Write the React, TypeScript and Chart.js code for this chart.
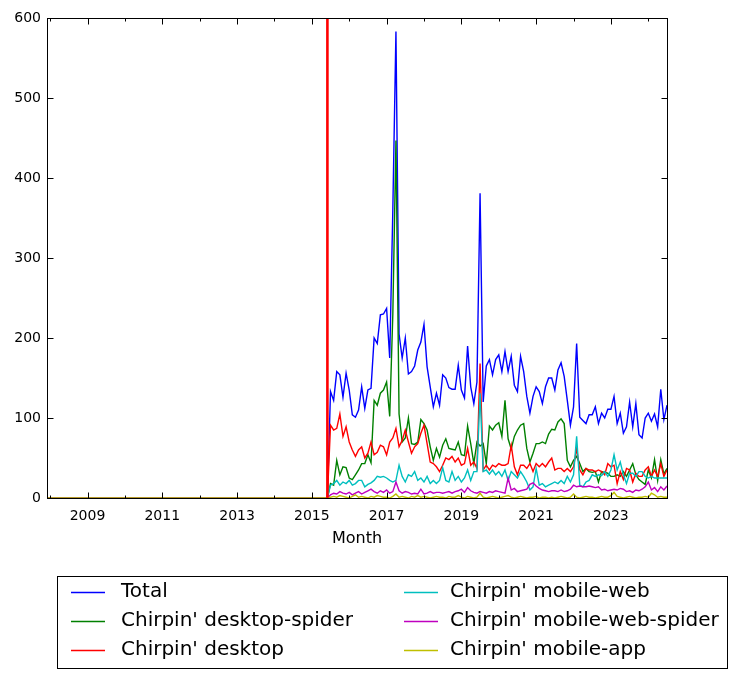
import React, { useEffect, useRef } from "react";
import { Chart, registerables } from "chart.js";

Chart.register(...registerables);

// ---- time frame ----
const FIRST_MONTH = "2007-12";
const SERIES_START = "2015-07"; // every series is 0 before this month
const LAST_MONTH = "2024-07";
const LAUNCH_MARKER = "2015-06"; // red vertical marker

// ---- ticks ----
const majorYearTicks = [2009, 2011, 2013, 2015, 2017, 2019, 2021, 2023];
const minorYearTicks = [2008, 2010, 2012, 2014, 2016, 2018, 2020, 2022, 2024];
const yTickValues = [0, 100, 200, 300, 400, 500, 600];

// ---- series ----
const seriesLabels = [
  "Total",
  "Chirpin' desktop-spider",
  "Chirpin' desktop",
  "Chirpin' mobile-web",
  "Chirpin' mobile-web-spider",
  "Chirpin' mobile-app",
];
const seriesColors = ["#0000ff", "#008000", "#ff0000", "#00bfbf", "#bf00bf", "#bfbf00"];

// monthly values from 2015-07 to 2024-07
const total = [
  133, 122, 158, 154, 126, 156, 135, 104, 101, 110,
  139, 112, 135, 137, 200, 193, 229, 230, 237, 175,
  360, 583, 205, 175, 200, 155, 158, 165, 185, 195,
  217, 164, 139, 114, 131, 116, 154, 150, 138, 136,
  136, 166, 135, 125, 190, 139, 118, 145, 381, 120,
  165, 173, 154, 173, 179, 158, 183, 158, 177, 141,
  133, 177, 158, 127, 106, 127, 139, 133, 118, 139,
  150, 150, 135, 160, 169, 152, 122, 91, 114, 193,
  101, 97, 93, 104, 104, 114, 93, 106, 100, 111,
  111, 127, 93, 106, 81, 89, 120, 89, 118, 79,
  75, 100, 106, 96, 105, 89, 136, 98, 116,
];
const desktopSpider = [
  18, 16, 47, 29, 39, 38, 25, 23, 29, 35,
  43, 43, 54, 44, 122, 116, 131, 135, 145, 102,
  230, 447, 105, 70, 75, 100, 68, 67, 70, 98,
  93, 85, 64, 47, 62, 51, 66, 74, 62, 61,
  60, 70, 54, 53, 90, 68, 43, 70, 65, 68,
  43, 90, 85, 91, 94, 77, 122, 74, 61, 77,
  85, 91, 93, 62, 45, 56, 68, 68, 70, 68,
  80, 86, 85, 95, 99, 93, 47, 39, 47, 52,
  43, 33, 37, 33, 32, 33, 20, 33, 32, 31,
  27, 27, 29, 27, 33, 27, 35, 43, 29, 23,
  20, 17, 35, 25, 48, 22, 48, 30, 37,
];
const desktop = [
  91, 85, 87, 105, 77, 89, 70, 60, 52, 60,
  64, 50, 56, 70, 54, 57, 66, 64, 54, 70,
  75, 87, 64, 72, 85, 70, 56, 64, 68, 81,
  91, 68, 45, 43, 39, 33, 41, 50, 48, 52,
  45, 50, 41, 43, 62, 41, 45, 37, 168, 35,
  41, 35, 41, 39, 43, 41, 41, 43, 66, 39,
  29, 41, 41, 37, 43, 33, 43, 39, 43, 39,
  45, 50, 35, 37, 37, 33, 37, 33, 39, 62,
  35, 29, 37, 35, 35, 33, 35, 33, 29, 43,
  39, 41, 18, 33, 23, 37, 35, 20, 31, 27,
  27, 35, 39, 27, 35, 27, 43, 27, 35,
];
const mobileWeb = [
  16, 18, 22, 16, 20, 18, 22, 16, 18, 22,
  22, 14, 17, 19, 22, 27, 26, 27, 25, 22,
  20, 22, 41, 27, 20, 29, 27, 33, 22, 25,
  20, 27, 18, 22, 18, 22, 38, 22, 20, 33,
  22, 27, 20, 25, 35, 22, 33, 33, 131, 33,
  35, 30, 35, 29, 33, 27, 35, 22, 33, 29,
  25, 33, 27, 20, 10, 14, 37, 16, 18, 14,
  16, 18, 20, 18, 22, 18, 27, 20, 29, 77,
  16, 14, 20, 22, 29, 27, 29, 28, 33, 27,
  35, 54, 35, 45, 29, 18, 31, 31, 27, 33,
  33, 27, 25, 27, 25, 25, 25, 25, 25,
];
const mobileWebSpider = [
  4, 6, 5, 8, 6, 5, 7, 4, 6, 8,
  5, 7, 9, 11, 8, 6, 9, 7, 10, 6,
  8, 20, 9, 6, 8, 7, 5, 6, 5, 11,
  5, 6, 8, 6, 7, 7, 6, 7, 8, 6,
  8, 9, 11, 7, 13, 9, 7, 6, 8, 7,
  6, 8, 7, 9, 8, 7, 6, 25, 10, 12,
  8, 9, 10, 11, 17, 19, 15, 12, 10, 9,
  8, 9, 9, 8, 10, 8, 9, 11, 16, 14,
  15, 14, 14, 15, 14, 13, 14, 10, 11, 9,
  10, 11, 10, 12, 11, 8, 9, 7, 10, 9,
  11, 14, 20, 10, 13, 8, 14, 10, 15,
];
const mobileApp = [
  1, 2, 1, 3, 2, 1, 0, 2, 4, 1,
  2, 1, 0, 2, 1, 3, 2, 1, 1, 0,
  2, 5, 1, 2, 1, 0, 2, 1, 3, 1,
  2, 1, 0, 1, 2, 1, 1, 0, 2, 1,
  1, 3, 1, 0, 2, 1, 0, 1, 6, 1,
  0, 1, 2, 1, 0, 1, 2, 3, 1, 0,
  1, 2, 1, 0, 1, 1, 2, 0, 1, 1,
  0, 1, 0, 1, 2, 1, 0, 1, 5, 1,
  0, 1, 2, 1, 1, 0, 1, 2, 1, 1,
  3, 7, 2, 1, 0, 1, 2, 1, 0, 1,
  1, 2, 1, 6, 4, 1, 2, 1, 1,
];
const seriesValues = [total, desktopSpider, desktop, mobileWeb, mobileWebSpider, mobileApp];

// ---- helpers ----
function parseMonth(m: string) {
  const [y, mo] = m.split("-").map(Number);
  return { y, mo };
}
function monthToYear(m: string) {
  const { y, mo } = parseMonth(m);
  return y + (mo - 1) / 12;
}
function monthIndex(m: string) {
  const { y, mo } = parseMonth(m);
  return y * 12 + (mo - 1);
}
function buildPoints(values: number[]) {
  const start = monthIndex(FIRST_MONTH);
  const dataStart = monthIndex(SERIES_START);
  const pts: { x: number; y: number }[] = [];
  for (let i = start; i < dataStart; i++) pts.push({ x: i / 12, y: 0 });
  values.forEach((v, k) => pts.push({ x: (dataStart + k) / 12, y: v }));
  return pts;
}

const FONT = '"DejaVu Sans", "Liberation Sans", sans-serif';
const LINE_W = 1.4;

const decorations = {
  id: "decorations",
  afterDatasetsDraw(chart: any) {
    const { ctx, chartArea: a } = chart;
    const xs = chart.scales.x;
    const ys = chart.scales.y;
    ctx.save();
    // launch marker
    const mx = xs.getPixelForValue(monthToYear(LAUNCH_MARKER));
    ctx.strokeStyle = "#ff0000";
    ctx.lineWidth = 2.6;
    ctx.beginPath();
    ctx.moveTo(mx, a.bottom);
    ctx.lineTo(mx, a.top);
    ctx.stroke();

    // frame
    const L = Math.round(a.left) + 0.5;
    const T = Math.round(a.top) + 0.5;
    const R = Math.round(a.right) + 0.5;
    const B = Math.round(a.bottom) + 0.5;
    ctx.strokeStyle = "#000";
    ctx.lineWidth = 1;
    ctx.strokeRect(L, T, R - L, B - T);

    ctx.beginPath();
    const xTick = (v: number, len: number) => {
      const px = Math.round(xs.getPixelForValue(v)) + 0.5;
      ctx.moveTo(px, B);
      ctx.lineTo(px, B - len);
      ctx.moveTo(px, T);
      ctx.lineTo(px, T + len);
    };
    majorYearTicks.forEach((v) => xTick(v, 6));
    minorYearTicks.forEach((v) => xTick(v, 3));
    yTickValues.forEach((v) => {
      const py = Math.round(ys.getPixelForValue(v)) + 0.5;
      ctx.moveTo(L, py);
      ctx.lineTo(L + 6, py);
      ctx.moveTo(R, py);
      ctx.lineTo(R - 6, py);
    });
    ctx.stroke();
    ctx.restore();
  },
  afterDraw(chart: any) {
    const { ctx } = chart;
    ctx.save();
    // legend box
    ctx.fillStyle = "#fff";
    ctx.fillRect(57.5, 576.5, 670, 92);
    ctx.strokeStyle = "#000";
    ctx.lineWidth = 1;
    ctx.strokeRect(57.5, 576.5, 670, 92);
    const rows = [592, 621, 650];
    const cols = [
      { l0: 71, l1: 105, tx: 121 },
      { l0: 404, l1: 438, tx: 450 },
    ];
    ctx.font = `20px ${FONT}`;
    ctx.textBaseline = "middle";
    ctx.textAlign = "left";
    seriesLabels.forEach((label, i) => {
      const c = cols[Math.floor(i / 3)];
      const y = rows[i % 3];
      ctx.strokeStyle = seriesColors[i];
      ctx.lineWidth = LINE_W;
      ctx.beginPath();
      ctx.moveTo(c.l0, y + 0.5);
      ctx.lineTo(c.l1, y + 0.5);
      ctx.stroke();
      ctx.fillStyle = "#000";
      ctx.fillText(label, c.tx, y);
    });
    ctx.restore();
  },
};

export default function App() {
  const ref = useRef<HTMLCanvasElement | null>(null);

  useEffect(() => {
    document.body.style.margin = "0";
    const canvas = ref.current;
    if (!canvas) return;
    Chart.defaults.font.family = FONT;
    const n = seriesValues.length;
    const chart = new Chart(canvas, {
      type: "line",
      data: {
        datasets: seriesValues.map((vals, i) => ({
          label: seriesLabels[i],
          data: buildPoints(vals),
          borderColor: seriesColors[i],
          backgroundColor: seriesColors[i],
          borderWidth: LINE_W,
          pointRadius: 0,
          tension: 0,
          fill: false,
          order: n - i,
        })),
      },
      options: {
        animation: false,
        responsive: false,
        devicePixelRatio: 1,
        events: [],
        layout: { padding: { left: 0, right: 70, top: 18, bottom: 131 } },
        plugins: { legend: { display: false }, tooltip: { enabled: false } },
        scales: {
          x: {
            type: "linear",
            min: monthToYear(FIRST_MONTH),
            max: monthToYear(LAST_MONTH),
            grid: { display: false, drawTicks: false },
            border: { display: false },
            afterBuildTicks: (scale: any) => {
              scale.ticks = majorYearTicks.map((v) => ({ value: v }));
            },
            afterFit: (scale: any) => {
              scale.height = 50;
            },
            ticks: {
              padding: 10,
              color: "#000",
              font: { size: 14, family: FONT },
              maxRotation: 0,
              autoSkip: false,
              callback: (v: any) => String(v),
            },
            title: {
              display: true,
              text: "Month",
              color: "#000",
              padding: 0,
              font: { size: 16, family: FONT },
            },
          },
          y: {
            type: "linear",
            min: 0,
            max: 600,
            grid: { display: false, drawTicks: false },
            border: { display: false },
            afterBuildTicks: (scale: any) => {
              scale.ticks = yTickValues.map((v) => ({ value: v }));
            },
            afterFit: (scale: any) => {
              scale.width = 47;
            },
            ticks: {
              padding: 6,
              color: "#000",
              font: { size: 14, family: FONT },
            },
          },
        },
      },
      plugins: [decorations],
    } as any);
    return () => chart.destroy();
  }, []);

  return (
    <div style={{ width: 737, height: 679 }}>
      <canvas ref={ref} width={737} height={679} style={{ display: "block" }} />
    </div>
  );
}
